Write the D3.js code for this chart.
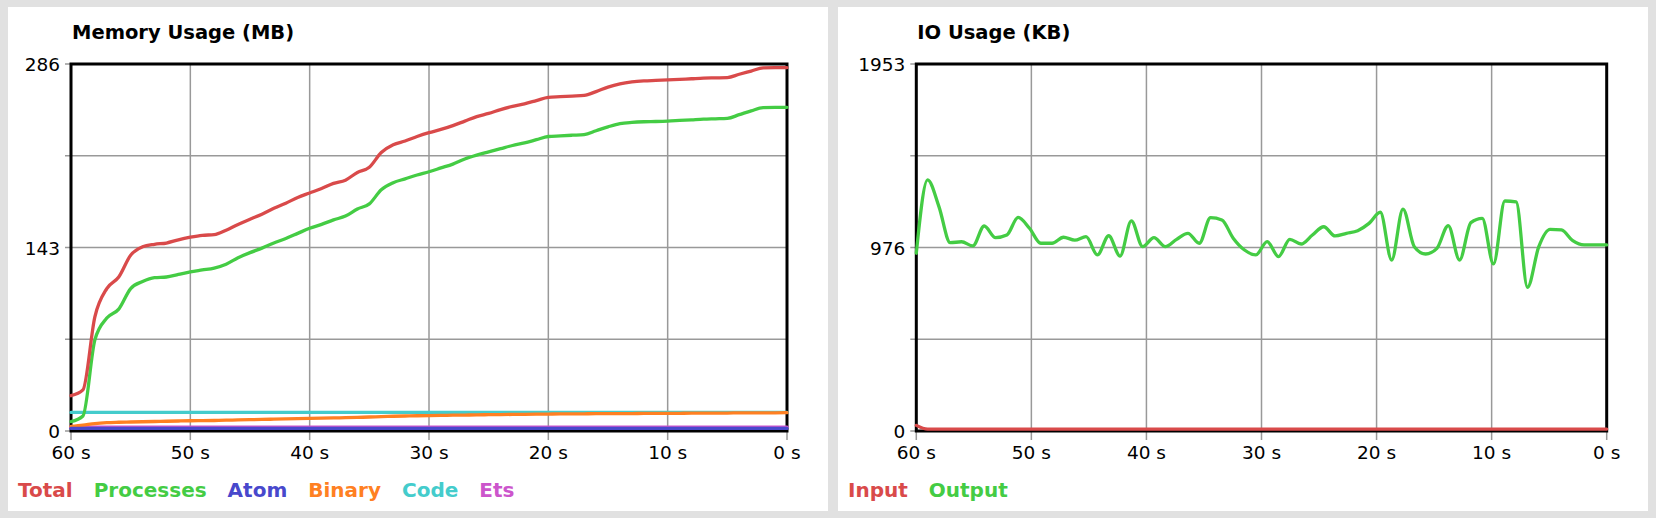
<!DOCTYPE html>
<html>
<head>
<meta charset="utf-8">
<script src="https://cdn.jsdelivr.net/npm/d3@7"></script>
<style>
    body { margin: 0; background: #e1e1e1; }
    svg { display: block; }
    text { font-family: "DejaVu Sans", Verdana, sans-serif; fill: #000; }
    .chart-title { font-weight: bold; font-size: 19.5px; }
    .tick-label { font-size: 18.5px; }
    .legend text { font-weight: bold; font-size: 20px; }
</style>
</head>
<body>
<svg id="root" width="1656" height="518"></svg>
<script>
// x axis (seconds ago), shared by both charts
var timeTicks = [60, 50, 40, 30, 20, 10, 0];
var timeLabels = ['60 s', '50 s', '40 s', '30 s', '20 s', '10 s', '0 s'];

// Memory Usage (MB), one sample per second, oldest first
var memYTicks = [0, 71.5, 143, 214.5, 286];
var memYLabels = ['0', '', '143', '', '286'];

var memTotal = [
    27.5, 32, 89, 111, 120, 137, 143.5, 145.5, 146.5, 149,
    151, 152.5, 153, 156.5, 161, 165, 169, 173.5, 177.5, 182,
    185.5, 189, 193, 195.5, 201.5, 205.5, 217, 223, 226, 229.5,
    232.5, 235, 238, 241.5, 245, 247.5, 250.5, 253, 255, 257.5,
    260, 260.5, 261, 261.5, 264.5, 268, 270.5, 272, 272.8, 273.2,
    273.6, 274, 274.5, 275, 275.2, 275.4, 278, 280.5, 283, 283.2,
    283.2];
var memProcesses = [
    7.3, 11.7, 71, 88, 95, 111, 116.5, 119.5, 120, 122,
    124, 125.5, 127, 130, 135, 139, 142.5, 146.5, 150, 154,
    158, 161, 164.5, 167.5, 173, 177, 188, 193.5, 196.5, 199.5,
    202, 205, 208, 212, 215, 217.5, 220, 222.5, 224.5, 227,
    229.5, 230, 230.5, 231, 234, 237, 239.5, 240.5, 241, 241.2,
    241.5, 242, 242.5, 243, 243.3, 243.6, 246.5, 249.5, 252, 252.2,
    252.2];
var memAtom = [
    2, 2, 2, 2, 2, 2, 2, 2, 2, 2,
    2, 2, 2, 2, 2, 2, 2, 2, 2, 2,
    2, 2, 2, 2, 2, 2, 2, 2, 2, 2,
    2, 2, 2, 2, 2, 2, 2, 2, 2, 2,
    2, 2, 2, 2, 2, 2, 2, 2, 2, 2,
    2, 2, 2, 2, 2, 2, 2, 2, 2, 2,
    2];
var memBinary = [
    3.5, 4.5, 5.8, 6.5, 6.8, 7.0, 7.2, 7.4, 7.6, 7.8,
    8.0, 8.1, 8.2, 8.4, 8.6, 8.8, 9.0, 9.2, 9.4, 9.6,
    9.8, 10.0, 10.2, 10.4, 10.6, 10.9, 11.2, 11.5, 11.7, 11.9,
    12.0, 12.1, 12.3, 12.4, 12.6, 12.7, 12.8, 12.9, 13.0, 13.1,
    13.2, 13.3, 13.3, 13.4, 13.5, 13.5, 13.6, 13.6, 13.7, 13.7,
    13.7, 13.8, 13.9, 13.9, 14.0, 14.0, 14.1, 14.1, 14.2, 14.2,
    14.3];
var memCode = [
    14.5, 14.5, 14.5, 14.5, 14.5, 14.5, 14.5, 14.5, 14.5, 14.5,
    14.5, 14.5, 14.5, 14.5, 14.5, 14.5, 14.5, 14.5, 14.5, 14.5,
    14.5, 14.5, 14.5, 14.5, 14.5, 14.5, 14.5, 14.5, 14.5, 14.5,
    14.5, 14.5, 14.5, 14.5, 14.5, 14.5, 14.5, 14.5, 14.5, 14.5,
    14.5, 14.5, 14.5, 14.5, 14.5, 14.5, 14.5, 14.5, 14.5, 14.5,
    14.5, 14.5, 14.5, 14.5, 14.5, 14.5, 14.5, 14.5, 14.5, 14.5,
    14.5];
var memEts = [
    3, 3, 3, 3, 3, 3, 3, 3, 3, 3,
    3, 3, 3, 3, 3, 3, 3, 3, 3, 3,
    3, 3, 3, 3, 3, 3, 3, 3, 3, 3,
    3, 3, 3, 3, 3, 3, 3, 3, 3, 3,
    3, 3, 3, 3, 3, 3, 3, 3, 3, 3,
    3, 3, 3, 3, 3, 3, 3, 3, 3, 3,
    3];

// IO Usage (KB), samples oldest first
var ioYTicks = [0, 488.25, 976.5, 1464.75, 1953];
var ioYLabels = ['0', '', '976', '', '1953'];

var ioInput = [
    30, 10, 10, 10, 10, 10, 10, 10, 10, 10,
    10, 10, 10, 10, 10, 10, 10, 10, 10, 10,
    10, 10, 10, 10, 10, 10, 10, 10, 10, 10,
    10, 10, 10, 10, 10, 10, 10, 10, 10, 10,
    10, 10, 10, 10, 10, 10, 10, 10, 10, 10,
    10, 10, 10, 10, 10, 10, 10, 10, 10, 10,
    10, 10];
var ioOutput = [
    946, 1336, 1194, 1002, 1007, 985, 1091, 1029, 1043, 1137,
    1079, 999, 999, 1031, 1016, 1034, 937, 1039, 931, 1118,
    981, 1029, 981, 1020, 1052, 999, 1135, 1123, 1026, 963,
    937, 1008, 928, 1020, 995, 1043, 1087, 1038, 1052, 1066,
    1105, 1164, 910, 1181, 981, 942, 972, 1093, 910, 1109,
    1132, 889, 1224, 1219, 765, 981, 1073, 1070, 1013, 990,
    990, 990];

// reusable time-series panel
var LineChart = function () {
    var width = 820,
        height = 504,
        title = 'Chart title',
        yTicks = [],
        yLabels = [],
        series = [],
        margin = { left: 63, top: 57, right: 41, bottom: 80 };

    var chart = function (selection) {
        var chartWidth = width - margin.left - margin.right;
        var chartHeight = height - margin.top - margin.bottom;

        selection.each(function () {
            var ele = d3.select(this);

            ele.append('rect')
                .attr('width', width)
                .attr('height', height)
                .attr('fill', '#fff');

            ele.append('text')
                .attr('class', 'chart-title')
                .attr('x', margin.left + 1)
                .attr('y', 32)
                .text(title);

            var g = ele.append('g')
                .attr('transform', 'translate(' + margin.left + ',' + margin.top + ')');

            // time scale for the grid, index scale for the samples
            var xTime = d3.scaleLinear().domain([60, 0]).range([0, chartWidth]);
            var yScale = d3.scaleLinear()
                .domain([0, yTicks[yTicks.length - 1]])
                .range([chartHeight, 0]);

            // grid lines (they run a little past the frame, like ticks)
            g.selectAll('.grid-x').data(timeTicks).enter().append('line')
                .attr('class', 'grid-x')
                .attr('x1', function (d) { return xTime(d); })
                .attr('x2', function (d) { return xTime(d); })
                .attr('y1', 0)
                .attr('y2', chartHeight + 9)
                .attr('stroke', '#999')
                .attr('stroke-width', 1.5);

            g.selectAll('.grid-y').data(yTicks).enter().append('line')
                .attr('class', 'grid-y')
                .attr('x1', -6)
                .attr('x2', chartWidth)
                .attr('y1', function (d) { return yScale(d); })
                .attr('y2', function (d) { return yScale(d); })
                .attr('stroke', '#999')
                .attr('stroke-width', 1.5);

            // tick labels
            g.selectAll('.xlab').data(timeTicks).enter().append('text')
                .attr('class', 'tick-label xlab')
                .attr('x', function (d) { return xTime(d); })
                .attr('y', chartHeight + 28)
                .attr('text-anchor', 'middle')
                .text(function (d, i) { return timeLabels[i]; });

            g.selectAll('.ylab').data(yTicks).enter().append('text')
                .attr('class', 'tick-label ylab')
                .attr('x', -11)
                .attr('y', function (d) { return yScale(d); })
                .attr('dy', '0.38em')
                .attr('text-anchor', 'end')
                .text(function (d, i) { return yLabels[i]; });

            // frame
            g.append('rect')
                .attr('width', chartWidth)
                .attr('height', chartHeight)
                .attr('fill', 'none')
                .attr('stroke', '#000')
                .attr('stroke-width', 3);

            // lines, last legend entry drawn first
            g.selectAll('.line').data(series.slice().reverse()).enter().append('path')
                .attr('class', 'line')
                .attr('fill', 'none')
                .attr('stroke', function (d) { return d.color; })
                .attr('stroke-width', 3.3)
                .attr('stroke-linejoin', 'round')
                .attr('stroke-linecap', 'round')
                .attr('d', function (d) {
                    var xIndex = d3.scaleLinear()
                        .domain([0, d.values.length - 1])
                        .range([0, chartWidth]);
                    var line = d3.line()
                        .x(function (v, i) { return xIndex(i); })
                        .y(function (v) { return yScale(v); })
                        .curve(d3.curveMonotoneX);
                    return line(d.values);
                });

            // legend
            var legend = ele.append('g').attr('class', 'legend');
            var xPos = 10;
            series.forEach(function (s) {
                var t = legend.append('text')
                    .attr('x', xPos)
                    .attr('y', 490)
                    .style('fill', s.color)
                    .text(s.name);
                xPos += t.node().getComputedTextLength() + 21;
            });
        });
    };

    chart.width = function (value) {
        if (!arguments.length) return width;
        width = value;
        return chart;
    };
    chart.height = function (value) {
        if (!arguments.length) return height;
        height = value;
        return chart;
    };
    chart.margin = function (value) {
        if (!arguments.length) return margin;
        margin = value;
        return chart;
    };
    chart.title = function (value) {
        if (!arguments.length) return title;
        title = value;
        return chart;
    };
    chart.yTicks = function (value) {
        if (!arguments.length) return yTicks;
        yTicks = value;
        return chart;
    };
    chart.yLabels = function (value) {
        if (!arguments.length) return yLabels;
        yLabels = value;
        return chart;
    };
    chart.series = function (value) {
        if (!arguments.length) return series;
        series = value;
        return chart;
    };

    return chart;
};

var svg = d3.select('#root');

var memChart = LineChart()
    .width(820)
    .margin({ left: 63, top: 57, right: 41, bottom: 80 })
    .title('Memory Usage (MB)')
    .yTicks(memYTicks)
    .yLabels(memYLabels)
    .series([
        { name: 'Total', color: '#d94a4a', values: memTotal },
        { name: 'Processes', color: '#44cc44', values: memProcesses },
        { name: 'Atom', color: '#4848cc', values: memAtom },
        { name: 'Binary', color: '#ff8022', values: memBinary },
        { name: 'Code', color: '#44cccc', values: memCode },
        { name: 'Ets', color: '#cc55cc', values: memEts }
    ]);

var ioChart = LineChart()
    .width(810)
    .margin({ left: 78.3, top: 57, right: 41.3, bottom: 80 })
    .title('IO Usage (KB)')
    .yTicks(ioYTicks)
    .yLabels(ioYLabels)
    .series([
        { name: 'Input', color: '#d94a4a', values: ioInput },
        { name: 'Output', color: '#44cc44', values: ioOutput }
    ]);

svg.append('g').attr('transform', 'translate(8,7)').call(memChart);
svg.append('g').attr('transform', 'translate(838,7)').call(ioChart);
</script>
</body>
</html>
